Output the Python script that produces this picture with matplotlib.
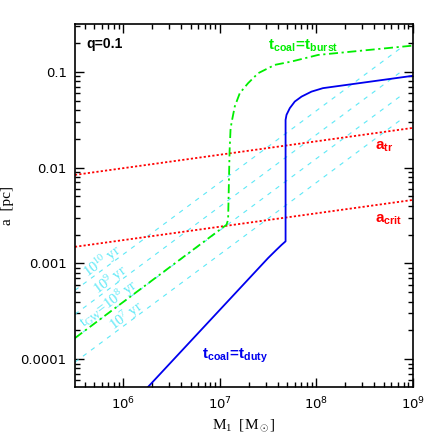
import numpy as np
import matplotlib
matplotlib.use("Agg")
import matplotlib.pyplot as plt
from matplotlib.ticker import FixedLocator, LogLocator, NullFormatter

plt.rcParams['font.family'] = ['DejaVu Sans']
plt.rcParams['mathtext.fontset'] = 'custom'
plt.rcParams['mathtext.rm'] = 'Liberation Serif'
plt.rcParams['mathtext.it'] = 'Liberation Serif:italic'
plt.rcParams['mathtext.bf'] = 'Liberation Sans:bold'
plt.rcParams['mathtext.sf'] = 'DejaVu Sans'

# axis ranges
M_MIN, M_MAX = 10**5.5, 1e9
A_MIN, A_MAX = 5.1e-5, 10**-0.5

# t_coal = t_duty curve (blue)
m_duty = [1.6e6, 6.2e6, 3.17e7, 3.87e7, 4.36e7, 4.8e7, 4.8e7, 4.91e7, 5.31e7,
          5.98e7, 7.03e7, 8.91e7, 1.17e8, 1.0e9]
a_duty = [4.5e-5, 1.95e-4, 1.14e-3, 1.39e-3, 1.56e-3, 1.70e-3, 3.15e-2, 3.56e-2,
          4.18e-2, 4.9e-2, 5.52e-2, 6.22e-2, 6.76e-2, 9.1e-2]

# t_coal = t_burst curve (green)
m_burst = [3.16e5, 1.172e7, 1.219e7, 1.262e7, 1.291e7, 1.321e7, 1.429e7, 1.611e7,
           1.963e7, 2.495e7, 3.715e7, 5.53e7, 1.045e8, 1.0e9]
a_burst = [1.66e-4, 2.53e-3, 2.85e-3, 1.472e-2, 2.48e-2, 2.92e-2, 4.35e-2, 6.0e-2,
           7.62e-2, 9.68e-2, 0.1183, 0.1282, 0.1503, 0.188]

# a_tr and a_crit (red dotted), end points
m_red = [3.16e5, 1.0e9]
a_tr = [8.4e-3, 2.6e-2]
a_crit = [1.49e-3, 4.6e-3]

# t_GW iso-lines (cyan dashed), end points
m_gw = [3.16e5, 8.0e8]
t_gw = ['1e7', '1e8', '1e9', '1e10']
a_gw_left = [9.3e-5, 1.66e-4, 2.94e-4, 5.24e-4]
a_gw_right = [3.32e-2, 5.9e-2, 0.105, 0.1866]

x_ticks = [1e6, 1e7, 1e8, 1e9]
x_labels = [r'$\mathsf{10^{6}}$', r'$\mathsf{10^{7}}$', r'$\mathsf{10^{8}}$', r'$\mathsf{10^{9}}$']
y_ticks = [1e-4, 1e-3, 1e-2, 1e-1]
y_labels = ['0.0001', '0.001', '0.01', '0.1']

GREEN = '#00ee00'
BLUE = '#0000ee'
CYAN = '#5ee9f7'

fig = plt.figure(figsize=(4.36, 4.36), dpi=100)
ax = fig.add_axes([0.172, 0.112, 0.775, 0.833])

for a0, a1 in zip(a_gw_left, a_gw_right):
    ax.plot(m_gw, [a0, a1], color=CYAN, lw=0.8, dashes=(4, 5))

ax.plot(m_red, a_tr, color='red', lw=1.3, linestyle=(0, (1.2, 1.2)))
ax.plot(m_red, a_crit, color='red', lw=1.3, linestyle=(0, (1.2, 1.2)))
ax.plot(m_burst, a_burst, color=GREEN, lw=1.3, dashes=(5, 2, 1.2, 2))
ax.plot(m_duty, a_duty, color=BLUE, lw=1.3)

ax.set_xscale('log')
ax.set_yscale('log')
ax.set_xlim(M_MIN, M_MAX)
ax.set_ylim(A_MIN, A_MAX)

ax.xaxis.set_major_locator(FixedLocator(x_ticks))
ax.set_xticklabels(x_labels)
ax.yaxis.set_major_locator(FixedLocator(y_ticks))
ax.set_yticklabels(y_labels)
ax.xaxis.set_minor_locator(LogLocator(base=10, subs=np.arange(2, 10)))
ax.yaxis.set_minor_locator(LogLocator(base=10, subs=np.arange(2, 10)))
ax.xaxis.set_minor_formatter(NullFormatter())
ax.yaxis.set_minor_formatter(NullFormatter())
ax.tick_params(which='both', direction='in', top=True, right=True, width=1.0)
ax.tick_params(which='major', length=6.5, labelsize=9.5, pad=6)
ax.tick_params(which='minor', length=3.3)
for sp in ax.spines.values():
    sp.set_linewidth(1.2)

ax.set_xlabel(r'M$_1$  [M$_\odot$]', family='Liberation Serif', fontsize=11, labelpad=4)
ax.set_ylabel('a  [pc]', family='Liberation Serif', fontsize=11)
ax.yaxis.set_label_coords(-0.18, 0.5)

ax.text(0.033, 0.945, 'q=0.1', transform=ax.transAxes, fontsize=10,
        family='Liberation Sans', fontweight='bold', va='center', ha='left')
ax.text(0.572, 0.939, r'$\mathbf{t_{coal}\!=\!t_{burst}}$', transform=ax.transAxes,
        color=GREEN, fontsize=11, va='center', ha='left')
ax.text(0.376, 0.085, r'$\mathbf{t_{coal}\!=\!t_{duty}}$', transform=ax.transAxes,
        color=BLUE, fontsize=11, va='center', ha='left')
ax.text(0.888, 0.664, r'$\mathbf{a_{tr}}$', transform=ax.transAxes,
        color='red', fontsize=11, va='center', ha='left')
ax.text(0.888, 0.463, r'$\mathbf{a_{crit}}$', transform=ax.transAxes,
        color='red', fontsize=11, va='center', ha='left')

cyan_labels = [r'$\mathrm{10^{10}\ yr}$', r'$\mathrm{10^{9}\ yr}$',
               r'$\mathrm{t_{GW}\!=\!10^{8}\ yr}$', r'$\mathrm{10^{7}\ yr}$']
cyan_pos = [(0.0814, 0.345), (0.106, 0.295), (0.1007, 0.2287), (0.151, 0.1956)]
for s, (x, y) in zip(cyan_labels, cyan_pos):
    ax.text(x, y, s, transform=ax.transAxes, color=CYAN, fontsize=10.5,
            rotation=36.7, rotation_mode='anchor', ha='center', va='center')

fig.savefig('out.png', dpi=100)
